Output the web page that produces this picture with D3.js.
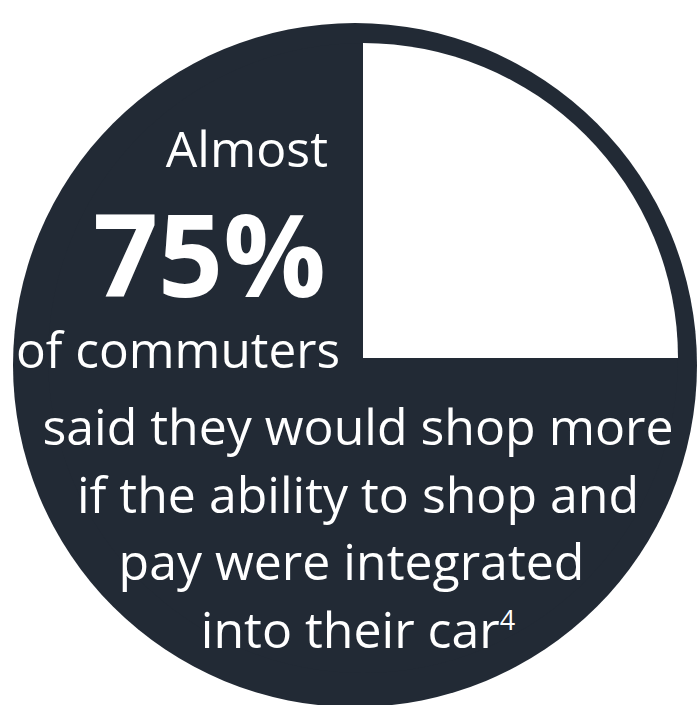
<!DOCTYPE html>
<html>
<head>
<meta charset="utf-8">
<script src="https://cdn.jsdelivr.net/npm/d3@7"></script>
<style>
  html, body { margin: 0; padding: 0; background: #ffffff; }
  svg { display: block; }
  text { font-family: "Open Sans", "Noto Sans", sans-serif; fill: #ffffff; white-space: pre; }
</style>
</head>
<body>
<div id="chart"></div>
<script>
// dados do gráfico
const categories = ["Other", "Would shop more"];
const shares = [25, 75];            // percentagens
const headline = ["Almost", "75%", "of commuters"];
const bodyLines = ["said they would shop more", "if the ability to shop and", "pay were integrated ", "into their car"];
const footnote = "4";

const width = 697;
const height = 705;
const navy = "#222a35";

const svg = d3.select("#chart")
    .append("svg")
    .attr("width", width)
    .attr("height", height)
    .attr("viewBox", `0 0 ${width} ${height}`);

// disco escuro de fundo
svg.append("circle")
    .attr("cx", 355)
    .attr("cy", 365)
    .attr("r", 342)
    .attr("fill", navy);

// fatias da pizza (a de 25% fica branca)
const pie = d3.pie().sort(null).value(d => d)(shares);
const arc = d3.arc().innerRadius(0).outerRadius(315);
const color = d3.scaleOrdinal().domain(categories).range(["#ffffff", navy]);

svg.append("g")
    .attr("transform", "translate(363,358)")
    .selectAll("path")
    .data(pie)
    .enter()
    .append("path")
    .attr("d", arc)
    .attr("fill", (d, i) => color(categories[i]));

// bloco de título à esquerda
const head = svg.append("g").attr("text-anchor", "end");
head.append("text").attr("x", 328).attr("y", 167).attr("font-size", 50).text(headline[0]);
head.append("text").attr("x", 326).attr("y", 297).attr("font-size", 114).attr("font-weight", 700).text(headline[1]);
head.append("text").attr("x", 340).attr("y", 368).attr("font-size", 49.5).text(headline[2]);

// texto de baixo, centralizado
const lineY = d3.scaleLinear().domain([0, bodyLines.length - 1]).range([445, 648]);
const body = svg.append("g").attr("text-anchor", "middle").attr("font-size", 50);
bodyLines.forEach((t, i) => {
    const txt = body.append("text").attr("x", 358).attr("y", lineY(i)).text(t);
    if (i === bodyLines.length - 1) {
        txt.append("tspan").attr("font-size", 27).attr("dy", -18).text(footnote);
    }
});
</script>
</body>
</html>
